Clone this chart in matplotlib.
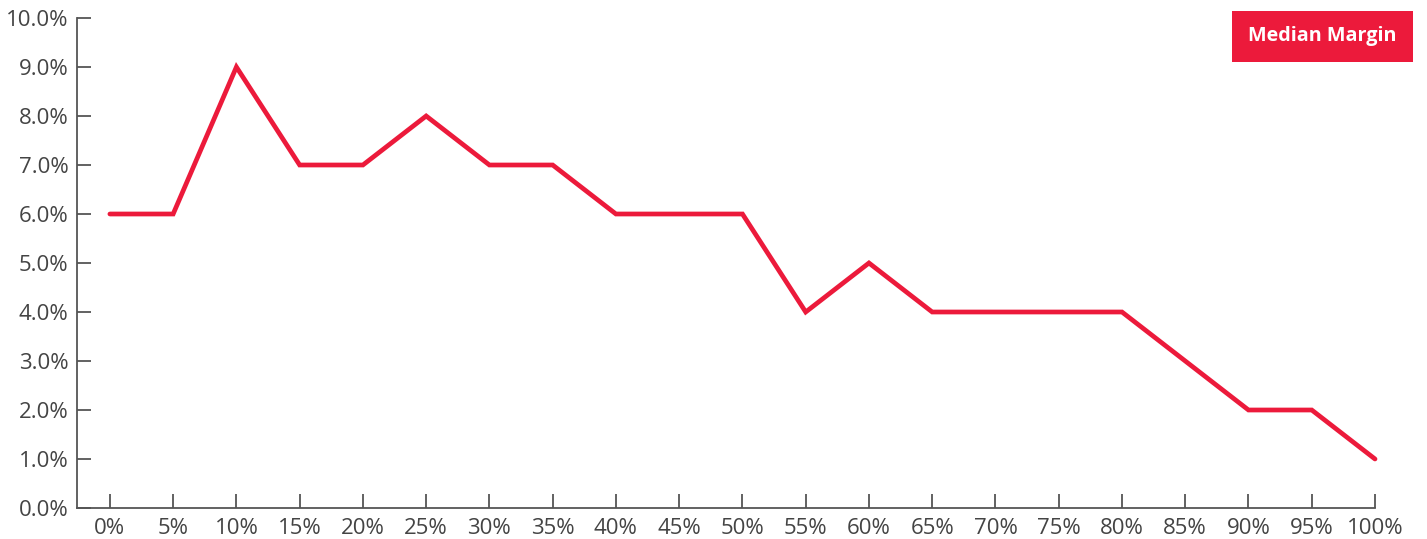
import matplotlib
matplotlib.use("Agg")
import matplotlib.pyplot as plt
from matplotlib.ticker import FuncFormatter

x_pct = [0, 5, 10, 15, 20, 25, 30, 35, 40, 45, 50, 55, 60, 65, 70, 75, 80, 85, 90, 95, 100]
median_margin = [6.0, 6.0, 9.0, 7.0, 7.0, 8.0, 7.0, 7.0, 6.0, 6.0, 6.0, 4.0, 5.0, 4.0, 4.0, 4.0, 4.0, 3.0, 2.0, 2.0, 1.0]
y_ticks = [0, 1, 2, 3, 4, 5, 6, 7, 8, 9, 10]

plt.rcParams['font.family'] = ['Open Sans', 'DejaVu Sans']
RED = '#EC1A3B'
GREY = '#555555'
TXT = '#444444'

fig = plt.figure(figsize=(14.27, 5.39), dpi=100)
W, H = 1427, 539
ax = fig.add_axes([77 / W, 1 - 508 / H, (1375 - 77) / W, (508 - 18) / H])

ax.plot(x_pct, median_margin, color=RED, lw=3.4, solid_capstyle='round',
        solid_joinstyle='miter', clip_on=False, zorder=5)

ax.set_xlim(-2.6, 100)
ax.set_ylim(0, 10)
ax.set_xticks(x_pct)
ax.set_yticks(y_ticks)
ax.xaxis.set_major_formatter(FuncFormatter(lambda v, p: f"{v:.0f}%"))
ax.yaxis.set_major_formatter(FuncFormatter(lambda v, p: f"{v:.1f}%"))

for s in ['top', 'right']:
    ax.spines[s].set_visible(False)
for s in ['left', 'bottom']:
    ax.spines[s].set_color(GREY)
    ax.spines[s].set_linewidth(1.3)

ax.tick_params(axis='both', direction='in', length=10, width=1.3, color=GREY,
               labelsize=16, labelcolor=TXT)
ax.tick_params(axis='x', pad=7)
ax.tick_params(axis='y', pad=6)

fig.text((1232 + 1413) / 2 / W, 1 - 36.5 / H, 'Median Margin', ha='center', va='center',
         color='white', fontsize=14.2, fontweight='bold',
         bbox=dict(boxstyle='square,pad=0.8', facecolor=RED, edgecolor='none'))

fig.savefig('out.png', dpi=100)
